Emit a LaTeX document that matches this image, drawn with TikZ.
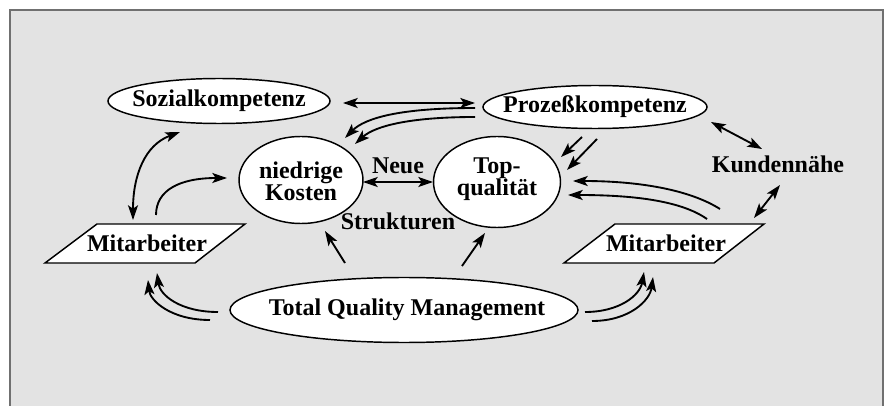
\documentclass[tikz,border=0pt]{standalone}
\usepackage{fontspec}
\setmainfont{Liberation Serif}
\usetikzlibrary{shapes.geometric,arrows.meta}
\definecolor{paper}{HTML}{E3E3E3}
\definecolor{framec}{HTML}{707070}
\begin{document}
\begin{tikzpicture}[x=0.75pt,y=-0.75pt,
  lbl/.style={font=\fontsize{18}{16.5}\selectfont\bfseries, align=center, inner sep=0pt},
  ell/.style={ellipse, draw=black, line width=1.1pt, fill=white, inner sep=0pt},
  para/.style={draw=black, line width=1.1pt, fill=white, line join=miter},
  con/.style={line width=1.4pt, -{Stealth[length=11pt,width=7.5pt,inset=2.5pt]}},
  dcon/.style={line width=1.4pt, {Stealth[length=11pt,width=7.5pt,inset=2.5pt]}-{Stealth[length=11pt,width=7.5pt,inset=2.5pt]}}]
\useasboundingbox (0,0) rectangle (890,406);
\begin{scope}
\clip (0,0) rectangle (890,406);
\fill[white] (0,0) rectangle (890,406);
\draw[framec, fill=paper, line width=0.8pt] (10,10) rectangle (883,420);
\end{scope}

% shapes
\node[ell, minimum width=166.5pt, minimum height=33.75pt] (soz) at (219,101) {};
\node[ell, minimum width=168pt, minimum height=32.25pt] (proz) at (595,107) {};
\node[ell, minimum width=93pt, minimum height=65.25pt] (kost) at (301,180) {};
\node[ell, minimum width=95.25pt, minimum height=68.25pt] (top) at (497,182) {};
\node[ell, minimum width=261pt, minimum height=48.75pt] (tqm) at (404,310) {};
\draw[para] (45,263) -- (97,224) -- (245,224) -- (195,263) -- cycle;
\draw[para] (564,263) -- (615,224) -- (764,224) -- (714,263) -- cycle;

% texts
\node[lbl] (sozt) at (219,101) {Sozialkompetenz};
\node[lbl] (prozt) at (595,107) {Prozeßkompetenz};
\node[lbl] (kostt) at (301,181) {niedrige\\Kosten};
\node[lbl] (topt) at (497,179) {Top-\\qualität};
\node[lbl] (tqmt) at (407,310) {Total Quality Management};
\node[lbl] (mitL) at (147,243) {Mitarbeiter};
\node[lbl] (mitR) at (666,243) {Mitarbeiter};
\node[lbl] (kund) at (778,164) {Kundennähe};
\node[lbl] (neue) at (398,166) {Neue};
\node[lbl] (strk) at (398,221) {Strukturen};

% connector end points
\coordinate (a1) at (343,103); \coordinate (a2) at (475,103);
\coordinate (b1) at (475,108); \coordinate (b2) at (345,138);
\coordinate (c1) at (475,117); \coordinate (c2) at (355,144);
\coordinate (d1) at (582,137); \coordinate (d2) at (561,157);
\coordinate (e1) at (597,139); \coordinate (e2) at (567,170);
\coordinate (f1) at (711,122); \coordinate (f2) at (762,149);
\coordinate (g1) at (780,185); \coordinate (g2) at (754,218);
\coordinate (h1) at (720,209); \coordinate (h2) at (573,181);
\coordinate (i1) at (707,219); \coordinate (i2) at (568,195);
\coordinate (j1) at (585,312); \coordinate (j2) at (644,272);
\coordinate (k1) at (592,321); \coordinate (k2) at (653,277);
\coordinate (l1) at (218,312); \coordinate (l2) at (157,273);
\coordinate (m1) at (210,320); \coordinate (m2) at (148,280);
\coordinate (n1) at (345,263); \coordinate (n2) at (325,231);
\coordinate (o1) at (462,266); \coordinate (o2) at (485,233);
\coordinate (p1) at (133,220); \coordinate (p2) at (180,132);
\coordinate (q1) at (156,215); \coordinate (q2) at (227,178);
\coordinate (r1) at (363,182); \coordinate (r2) at (433,182);

% connectors
\draw[dcon] (a1) -- (a2);
\draw[con] (b1) .. controls (400,108) and (365,118) .. (b2);
\draw[con] (c1) .. controls (410,117) and (375,126) .. (c2);
\draw[con] (d1) -- (d2);
\draw[con] (e1) -- (e2);
\draw[dcon] (f1) -- (f2);
\draw[dcon] (g1) -- (g2);
\draw[con] (h1) .. controls (690,190) and (640,181) .. (h2);
\draw[con] (i1) .. controls (680,200) and (630,195) .. (i2);
\draw[con] (j1) .. controls (620,312) and (640,295) .. (j2);
\draw[con] (k1) .. controls (630,321) and (650,300) .. (k2);
\draw[con] (l1) .. controls (180,312) and (160,295) .. (l2);
\draw[con] (m1) .. controls (170,320) and (150,300) .. (m2);
\draw[con] (n1) -- (n2);
\draw[con] (o1) -- (o2);
\draw[dcon] (p1) .. controls (133,175) and (145,145) .. (p2);
\draw[con] (q1) .. controls (156,190) and (180,178) .. (q2);
\draw[dcon] (r1) -- (r2);
\end{tikzpicture}
\end{document}
